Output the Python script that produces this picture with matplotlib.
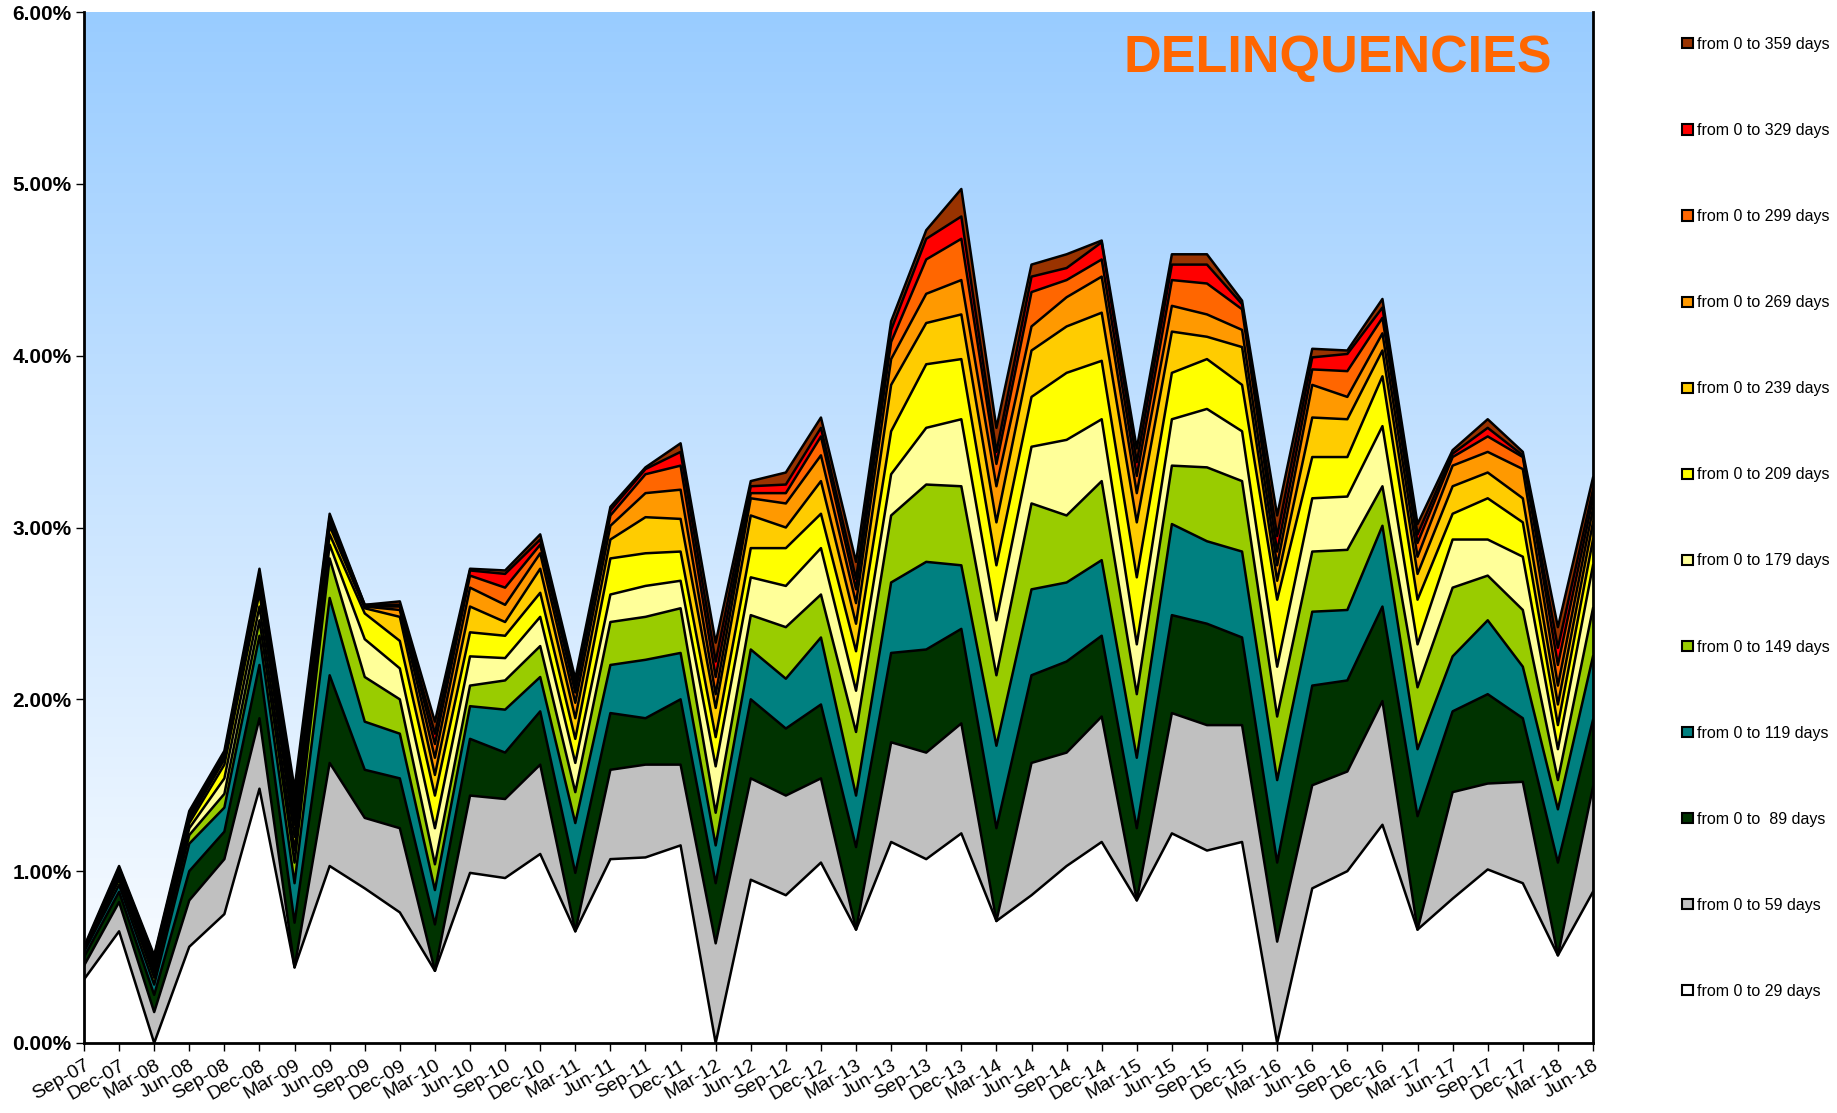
import numpy as np
import matplotlib
matplotlib.use("Agg")
import matplotlib.pyplot as plt
from matplotlib.patches import Patch
from matplotlib.ticker import FuncFormatter

plt.rcParams['font.family'] = ['Liberation Sans', 'DejaVu Sans']

dates = ["Sep-07", "Dec-07", "Mar-08", "Jun-08", "Sep-08", "Dec-08", "Mar-09", "Jun-09",
         "Sep-09", "Dec-09", "Mar-10", "Jun-10", "Sep-10", "Dec-10", "Mar-11", "Jun-11",
         "Sep-11", "Dec-11", "Mar-12", "Jun-12", "Sep-12", "Dec-12", "Mar-13", "Jun-13",
         "Sep-13", "Dec-13", "Mar-14", "Jun-14", "Sep-14", "Dec-14", "Mar-15", "Jun-15",
         "Sep-15", "Dec-15", "Mar-16", "Jun-16", "Sep-16", "Dec-16", "Mar-17", "Jun-17",
         "Sep-17", "Dec-17", "Mar-18", "Jun-18"]

# cumulative delinquency rates in %, "from 0 to N days"
d29 = [.37, .65, 0, .56, .75, 1.48, .44, 1.03, .90, .76, .42, .99, .96, 1.10, .65, 1.07, 1.08, 1.15, 0, .95, .86, 1.05,
       .66, 1.17, 1.07, 1.22, .71, .86, 1.03, 1.17, .83, 1.22, 1.12, 1.17, 0, .90, 1.00, 1.27, .66, .84, 1.01, .93, .51, .88]
d59 = [.45, .82, .18, .83, 1.07, 1.89, .44, 1.63, 1.31, 1.25, .42, 1.44, 1.42, 1.62, .65, 1.59, 1.62, 1.62, .58, 1.54, 1.44, 1.54,
       .66, 1.75, 1.69, 1.86, .71, 1.63, 1.69, 1.90, .83, 1.92, 1.85, 1.85, .59, 1.50, 1.58, 1.99, .66, 1.46, 1.51, 1.52, .51, 1.49]
d89 = [.50, .88, .28, 1.00, 1.23, 2.20, .70, 2.14, 1.59, 1.54, .69, 1.77, 1.69, 1.93, .99, 1.92, 1.89, 2.00, .93, 2.00, 1.83, 1.97,
       1.14, 2.27, 2.29, 2.41, 1.25, 2.14, 2.22, 2.37, 1.25, 2.49, 2.44, 2.36, 1.05, 2.08, 2.11, 2.54, 1.32, 1.93, 2.03, 1.89, 1.05, 1.88]
d119 = [.53, .92, .34, 1.16, 1.37, 2.37, .93, 2.59, 1.87, 1.80, .89, 1.96, 1.94, 2.13, 1.28, 2.20, 2.23, 2.27, 1.15, 2.29, 2.12, 2.36,
        1.44, 2.68, 2.80, 2.78, 1.73, 2.64, 2.68, 2.81, 1.66, 3.02, 2.92, 2.86, 1.53, 2.51, 2.52, 3.01, 1.71, 2.25, 2.46, 2.19, 1.36, 2.25]
d149 = [.54, .95, .38, 1.21, 1.45, 2.46, 1.05, 2.82, 2.13, 2.00, 1.04, 2.08, 2.11, 2.31, 1.46, 2.45, 2.48, 2.53, 1.34, 2.49, 2.42, 2.61,
        1.81, 3.07, 3.25, 3.24, 2.14, 3.14, 3.07, 3.27, 2.03, 3.36, 3.35, 3.27, 1.90, 2.86, 2.87, 3.24, 2.07, 2.65, 2.72, 2.52, 1.53, 2.53]
d179 = [.55, .97, .41, 1.25, 1.54, 2.54, 1.12, 2.90, 2.35, 2.18, 1.25, 2.25, 2.24, 2.48, 1.63, 2.61, 2.66, 2.69, 1.61, 2.71, 2.66, 2.88,
        2.05, 3.31, 3.58, 3.63, 2.46, 3.47, 3.51, 3.63, 2.32, 3.63, 3.69, 3.56, 2.19, 3.17, 3.18, 3.59, 2.32, 2.93, 2.93, 2.83, 1.71, 2.78]
d209 = [.55, .98, .43, 1.28, 1.62, 2.62, 1.20, 2.96, 2.50, 2.34, 1.44, 2.39, 2.37, 2.62, 1.77, 2.82, 2.85, 2.86, 1.78, 2.88, 2.88, 3.08,
        2.28, 3.56, 3.95, 3.98, 2.78, 3.76, 3.90, 3.97, 2.71, 3.90, 3.98, 3.83, 2.58, 3.41, 3.41, 3.88, 2.58, 3.08, 3.17, 3.03, 1.85, 2.93]
d239 = [.55, .99, .45, 1.30, 1.65, 2.66, 1.27, 3.01, 2.53, 2.48, 1.56, 2.54, 2.45, 2.76, 1.89, 2.93, 3.06, 3.05, 1.95, 3.07, 3.00, 3.27,
        2.44, 3.83, 4.19, 4.24, 3.03, 4.03, 4.17, 4.25, 3.03, 4.14, 4.11, 4.05, 2.69, 3.64, 3.63, 4.03, 2.73, 3.24, 3.32, 3.17, 1.97, 3.03]
d269 = [.55, 1.00, .47, 1.31, 1.66, 2.69, 1.33, 3.03, 2.54, 2.52, 1.66, 2.65, 2.55, 2.85, 1.98, 3.01, 3.20, 3.22, 2.03, 3.17, 3.14, 3.42,
        2.56, 3.98, 4.36, 4.44, 3.24, 4.17, 4.34, 4.46, 3.20, 4.29, 4.24, 4.15, 2.78, 3.83, 3.76, 4.13, 2.83, 3.36, 3.44, 3.34, 2.08, 3.11]
d299 = [.55, 1.01, .48, 1.32, 1.67, 2.71, 1.38, 3.05, 2.54, 2.54, 1.74, 2.72, 2.65, 2.90, 2.04, 3.07, 3.31, 3.36, 2.13, 3.20, 3.20, 3.53,
        2.64, 4.08, 4.56, 4.68, 3.37, 4.37, 4.44, 4.56, 3.30, 4.44, 4.42, 4.27, 2.86, 3.92, 3.91, 4.22, 2.91, 3.41, 3.53, 3.41, 2.20, 3.17]
d329 = [.55, 1.02, .50, 1.33, 1.68, 2.73, 1.43, 3.06, 2.55, 2.55, 1.80, 2.75, 2.73, 2.93, 2.08, 3.10, 3.34, 3.44, 2.22, 3.24, 3.25, 3.58,
        2.70, 4.15, 4.68, 4.81, 3.44, 4.46, 4.51, 4.66, 3.38, 4.53, 4.53, 4.30, 2.95, 3.99, 4.01, 4.28, 2.96, 3.43, 3.58, 3.42, 2.30, 3.22]
d359 = [.56, 1.03, .51, 1.35, 1.70, 2.76, 1.48, 3.08, 2.55, 2.57, 1.87, 2.76, 2.75, 2.96, 2.12, 3.12, 3.35, 3.49, 2.33, 3.27, 3.32, 3.64,
        2.80, 4.20, 4.73, 4.97, 3.58, 4.53, 4.59, 4.67, 3.46, 4.59, 4.59, 4.32, 3.07, 4.04, 4.03, 4.33, 3.02, 3.45, 3.63, 3.44, 2.42, 3.29]

series = [d29, d59, d89, d119, d149, d179, d209, d239, d269, d299, d329, d359]
labels = ["from 0 to 29 days", "from 0 to 59 days", "from 0 to  89 days", "from 0 to 119 days",
          "from 0 to 149 days", "from 0 to 179 days", "from 0 to 209 days", "from 0 to 239 days",
          "from 0 to 269 days", "from 0 to 299 days", "from 0 to 329 days", "from 0 to 359 days"]
colors = ["#FFFFFF", "#C0C0C0", "#003300", "#008080", "#99CC00", "#FFFF99",
          "#FFFF00", "#FFCC00", "#FF9900", "#FF6600", "#FF0000", "#993300"]

fig = plt.figure(figsize=(18.37, 11.13), dpi=100)
ax = fig.add_axes([84 / 1837, 70 / 1113, 1509 / 1837, 1031 / 1113])

x = np.arange(len(dates))

# sky gradient background
grad = np.linspace(0, 1, 256).reshape(-1, 1)
top = np.array([153, 204, 255]) / 255.0
bot = np.array([255, 255, 255]) / 255.0
img = bot + (top - bot) * grad[..., None]
ax.imshow(img, extent=[0, len(dates) - 1, 0, 0.06], origin='lower', aspect='auto', zorder=0)

prev = np.zeros(len(dates))
for s, c in zip(series, colors):
    v = np.array(s) / 100.0
    ax.fill_between(x, prev, v, facecolor=c, edgecolor='none', zorder=2)
    prev = v
for s in series:
    ax.plot(x, np.array(s) / 100.0, color='black', lw=1.8, zorder=3)

ax.set_xlim(0, len(dates) - 1)
ax.set_ylim(0, 0.06)
ax.set_yticks(np.arange(0, 0.061, 0.01))
ax.yaxis.set_major_formatter(FuncFormatter(lambda v, p: f"{v * 100:.2f}%"))
for t in ax.get_yticklabels():
    t.set_fontweight('bold')
ax.tick_params(axis='y', labelsize=15, length=6, width=1, direction='out', pad=3)
ax.set_xticks(x)
ax.set_xticklabels(dates, rotation=30, ha='right', va='top', rotation_mode='anchor', fontsize=14)
ax.tick_params(axis='x', length=6, width=1, direction='out', pad=4)

ax.spines['top'].set_visible(False)
for sp in ['left', 'bottom', 'right']:
    ax.spines[sp].set_linewidth(2)
    ax.spines[sp].set_zorder(5)

ax.text(0.973, 0.955, "DELINQUENCIES", transform=ax.transAxes, ha='right', va='center',
        fontsize=37.5, fontweight='bold', color='#FF6600', zorder=6)

handles = [Patch(facecolor=c, edgecolor='black', linewidth=1.5) for c in colors]
fig.legend(handles[::-1], labels[::-1], loc='upper left', bbox_to_anchor=(1674 / 1837, 1 - 29 / 1113),
           frameon=False, fontsize=11.5, handlelength=0.7, handleheight=0.6, handletextpad=0.25,
           labelspacing=4.45, borderpad=0)

fig.savefig("out.png", dpi=100)
